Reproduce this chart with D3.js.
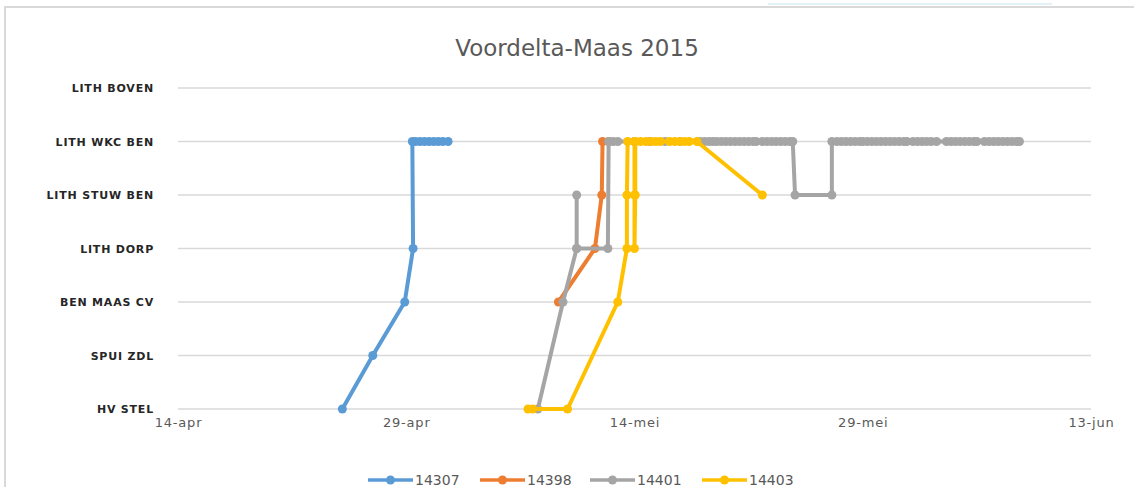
<!DOCTYPE html>
<html>
<head>
<meta charset="utf-8">
<script src="https://cdn.jsdelivr.net/npm/d3@7"></script>
<style>
html,body{margin:0;padding:0;background:#fff;}
svg{display:block;}
</style>
</head>
<body>
<svg id="chart" width="1134" height="495"></svg>
<script>
// ---- data ----
const title = "Voordelta-Maas 2015";
const stations = ["HV STEL","SPUI ZDL","BEN MAAS CV","LITH DORP","LITH STUW BEN","LITH WKC BEN","LITH BOVEN"];
const tickLabels = ["14-apr","29-apr","14-mei","29-mei","13-jun"];
const tickDays = [0,15,30,45,60];   // days after 14-apr-2015
const seriesNames = ["14307","14398","14401","14403"];
const seriesColors = ["#5b9bd5","#ed7d31","#a5a5a5","#ffc000"];

// day offsets after 14-apr-2015 and station index (0 = HV STEL)
const days14307 = [10.8,12.8,14.9,15.45,15.4,15.6,15.9,16.2,16.5,16.8,17.1,17.4,17.75];
const st14307   = [0,1,2,3,5,5,5,5,5,5,5,5,5];

const days14398 = [25.0,27.4,27.85,27.9,28.3];
const st14398   = [2,3,4,5,5];

const days14401 = [23.65,25.3,26.2,26.2,26.2,28.25,28.3,28.6,28.9,30.0,31.0,32.0,33.0,
  34.3,34.6,34.9,35.15,35.4,35.7,36.0,36.3,36.6,36.9,37.2,37.5,37.8,38.0,
  38.4,38.7,39.0,39.3,39.6,39.9,40.2,40.4,40.55,42.97,42.97,
  43.3,43.6,43.9,44.2,44.5,44.8,45.0,45.3,45.6,45.9,46.2,46.5,46.8,47.1,47.4,47.7,47.9,
  48.3,48.6,48.9,49.2,49.5,49.85,50.5,50.8,51.1,51.4,51.7,52.0,52.3,52.5,
  53.0,53.3,53.6,53.9,54.2,54.5,54.8,55.1,55.3];
const st14401   = [0,2,3,4,3,3,5,5,5,5,5,5,5,
  5,5,5,5,5,5,5,5,5,5,5,5,5,5,
  5,5,5,5,5,5,5,5,4,4,5,
  5,5,5,5,5,5,5,5,5,5,5,5,5,5,5,5,5,
  5,5,5,5,5,5,5,5,5,5,5,5,5,5,
  5,5,5,5,5,5,5,5,5];

const days14403 = [23.0,23.3,25.6,28.9,29.5,29.5,29.55,30.0,30.0,30.0,30.05,30.05,
  30.4,30.75,31.1,31.4,31.7,32.3,32.65,33.0,33.3,33.6,34.1,38.4];
const st14403   = [0,0,0,2,3,4,5,5,4,3,4,5,
  5,5,5,5,5,5,5,5,5,5,5,4];

const seriesDays = [days14307,days14398,days14401,days14403];
const seriesSt = [st14307,st14398,st14401,st14403];

// ---- drawing ----
const svg = d3.select("#chart");
const W = 1134, H = 495;
svg.append("rect").attr("width",W).attr("height",H).attr("fill","#fff");

// frame (chart area border)
svg.append("path").attr("d","M5,487 V7 H1134").attr("fill","none")
  .attr("stroke","#d9d9d9").attr("stroke-width",2);
svg.append("path").attr("d","M768,4 H1052").attr("stroke","#e2f1f6").attr("stroke-width",2);

const t0 = Date.UTC(2015,3,14);
const toDate = d => new Date(t0 + d*864e5);
const x = d3.scaleTime().domain([toDate(0), toDate(60)]).range([178,1091]);
const y = d3.scaleLinear().domain([0,6]).range([409,88]);

// title
svg.append("text").attr("x",577).attr("y",56).attr("text-anchor","middle")
  .attr("font-family","DejaVu Sans, sans-serif").attr("font-size",23)
  .attr("fill","#595959").text(title);

// gridlines
svg.append("g").selectAll("line").data(d3.range(stations.length)).join("line")
  .attr("x1",x.range()[0]).attr("x2",x.range()[1])
  .attr("y1",d=>y(d)).attr("y2",d=>y(d))
  .attr("stroke","#d9d9d9").attr("stroke-width",1.3);

// y axis labels
const yAxis = d3.axisLeft(y).tickValues(d3.range(stations.length))
  .tickFormat(i=>stations[i]).tickSize(0).tickPadding(0);
const gy = svg.append("g").attr("transform","translate(154,0)").call(yAxis);
gy.select(".domain").remove();
gy.selectAll("text").attr("font-family","DejaVu Sans, sans-serif")
  .attr("font-weight","bold").attr("font-size",11).attr("letter-spacing",0.8)
  .attr("fill","#262626");

// x axis labels
const xAxis = d3.axisBottom(x).tickValues(tickDays.map(toDate))
  .tickFormat((d,i)=>tickLabels[i]).tickSize(0).tickPadding(9);
const gx = svg.append("g").attr("transform","translate(0,409)").call(xAxis);
gx.select(".domain").remove();
gx.selectAll("text").attr("font-family","DejaVu Sans, sans-serif")
  .attr("font-size",13).attr("letter-spacing",0.8).attr("fill","#595959");

// series
const line = d3.line().x(p=>x(toDate(p[0]))).y(p=>y(p[1]));
seriesNames.forEach((name,k)=>{
  const pts = seriesDays[k].map((d,i)=>[d, seriesSt[k][i]]);
  const g = svg.append("g");
  g.append("path").datum(pts).attr("d",line).attr("fill","none")
    .attr("stroke",seriesColors[k]).attr("stroke-width",4)
    .attr("stroke-linejoin","round").attr("stroke-linecap","round");
  g.selectAll("circle").data(pts).join("circle")
    .attr("cx",p=>x(toDate(p[0]))).attr("cy",p=>y(p[1])).attr("r",4.5)
    .attr("fill",seriesColors[k]);
});

// legend
const legX = [368,480,590,702];
const lg = svg.append("g");
seriesNames.forEach((name,k)=>{
  const gx0 = legX[k];
  lg.append("line").attr("x1",gx0).attr("x2",gx0+45).attr("y1",480).attr("y2",480)
    .attr("stroke",seriesColors[k]).attr("stroke-width",3.5);
  lg.append("circle").attr("cx",gx0+22.5).attr("cy",480).attr("r",4.5).attr("fill",seriesColors[k]);
  lg.append("text").attr("x",gx0+47).attr("y",485)
    .attr("font-family","DejaVu Sans, sans-serif").attr("font-size",14)
    .attr("fill","#595959").text(name);
});
</script>
</body>
</html>
